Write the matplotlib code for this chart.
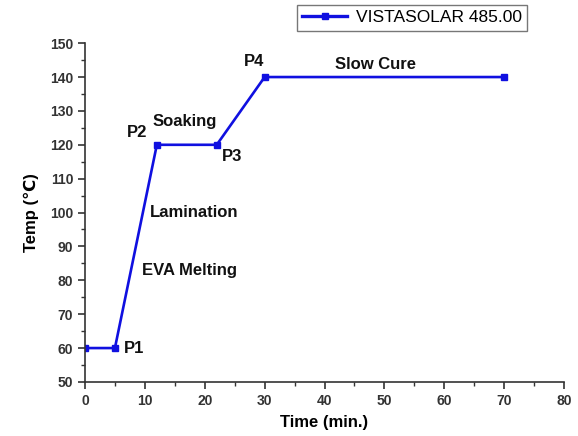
import matplotlib
matplotlib.use("Agg")
import matplotlib.pyplot as plt
from matplotlib.ticker import MultipleLocator

plt.rcParams['font.family'] = ['Liberation Sans', 'DejaVu Sans']
plt.rcParams['font.weight'] = 'bold'

time_min = [0, 5, 12, 22, 30, 70]
temp_c = [60, 60, 120, 120, 140, 140]
series_label = "VISTASOLAR 485.00"

annotations = [
    ("P1", 6.5, 60),
    ("P2", 7.0, 123.5),
    ("P3", 22.8, 116.4),
    ("P4", 26.6, 144.6),
    ("Soaking", 11.3, 127),
    ("Lamination", 10.9, 100),
    ("EVA Melting", 9.6, 83),
    ("Slow Cure", 41.8, 143.8),
]

fig = plt.figure(figsize=(5.78, 4.36), dpi=100)
ax = fig.add_axes([0.147, 0.124, 0.829, 0.777])
line, = ax.plot(time_min, temp_c, color='#1010e0', lw=1.9, marker='s', ms=5,
                label=series_label)
ax.set_xlim(0, 80)
ax.set_ylim(50, 150)
ax.xaxis.set_major_locator(MultipleLocator(10))
ax.xaxis.set_minor_locator(MultipleLocator(5))
ax.yaxis.set_major_locator(MultipleLocator(10))
ax.yaxis.set_minor_locator(MultipleLocator(5))
for s in ['top', 'right']:
    ax.spines[s].set_visible(False)
for s in ['left', 'bottom']:
    ax.spines[s].set_linewidth(1.2)
    ax.spines[s].set_color('#333333')
ax.tick_params(which='major', direction='out', length=5, width=1.2, labelsize=10, colors='#333333')
ax.tick_params(which='minor', direction='out', length=3, width=1.0, colors='#333333')
for lab in ax.get_xticklabels() + ax.get_yticklabels():
    lab.set_fontweight('bold')
ax.set_xlabel("Time (min.)", fontsize=12, fontweight='bold', labelpad=5)
ax.set_ylabel("Temp (\u2103)", fontsize=12, fontweight='bold', labelpad=8)

for txt, x, y in annotations:
    ax.text(x, y, txt, fontsize=12, fontweight='bold', va='center', ha='left', color='#111111')

leg = fig.legend(handles=[line], loc='upper left', bbox_to_anchor=(297/578, 1 - 5/436),
                 frameon=True, fancybox=False, edgecolor='#555555',
                 handlelength=2.6, handletextpad=0.5, borderpad=0.3, borderaxespad=0,
                 markerscale=0.8, prop={'weight': 'normal', 'size': 12.5})
leg.get_frame().set_linewidth(1.0)
leg.get_lines()[0].set_linewidth(2.4)

fig.savefig("out.png", dpi=100)
